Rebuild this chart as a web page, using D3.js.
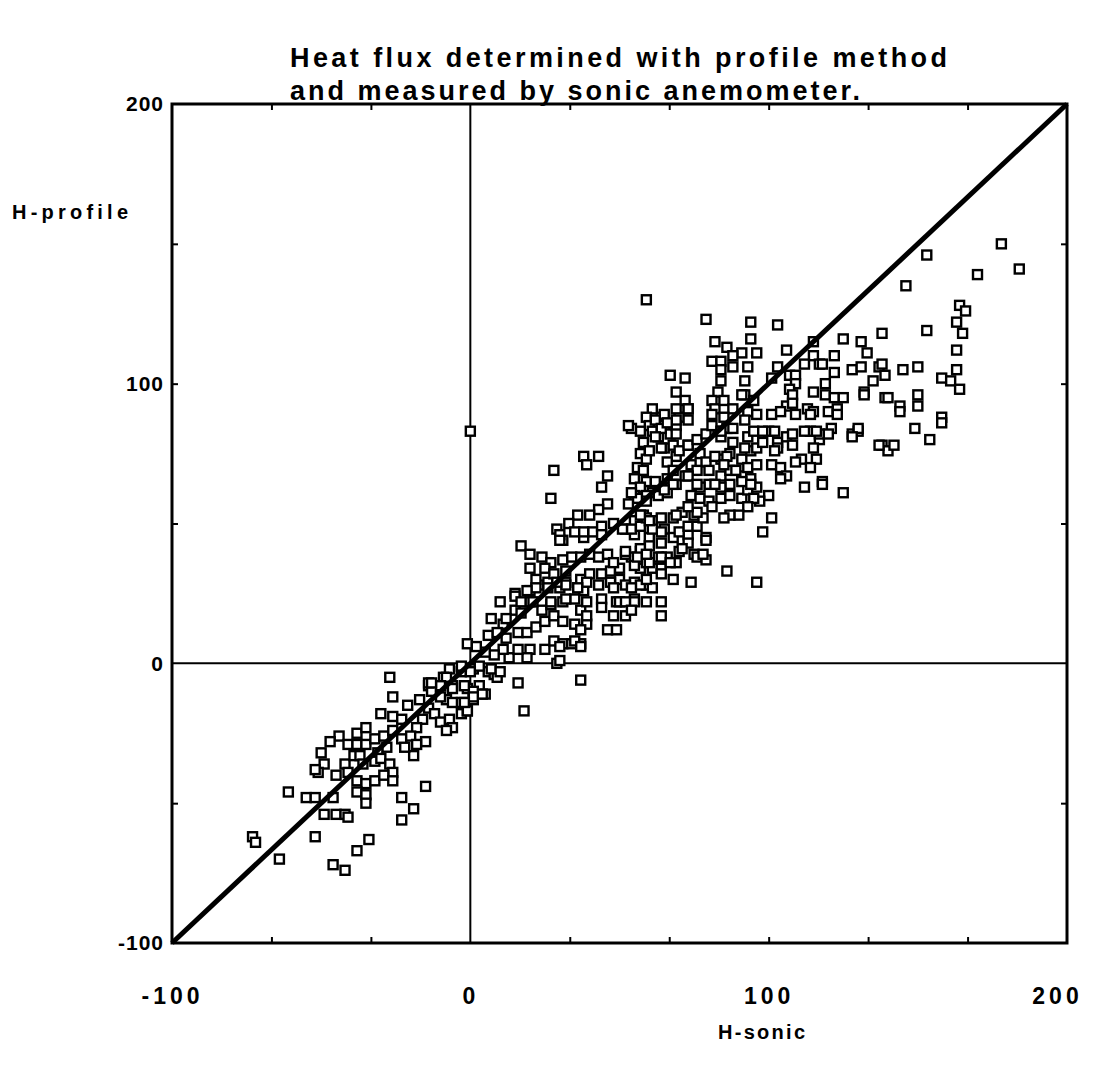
<!DOCTYPE html>
<html>
<head>
<meta charset="utf-8">
<script src="https://cdn.jsdelivr.net/npm/d3@7"></script>
<style>
  body { margin: 0; background: #fff; }
  text { font-family: "Liberation Sans", Arial, sans-serif; font-weight: bold; fill: #000; }
</style>
</head>
<body>
<svg width="1099" height="1070"></svg>
<script>
// points are [H-sonic, H-profile]
var negativeFlux = [
  [-27,-5],[-26,-12],[-14,-8],[-30,-18],[-26,-19],[-21,-15],[-23,-20],[-17,-13],[-14,-16],[-16,-20],
  [-18,-23],[-12,-18],[-10,-21],[-7,-20],[-3,-18],[-1,-17],[-6,-23],[-8,-24],[-44,-26],[-47,-28],
  [-38,-25],[-35,-23],[-41,-29],[-38,-29],[-35,-29],[-32,-27],[-29,-26],[-26,-24],[-23,-27],[-28,-30],
  [-31,-32],[-20,-26],[-15,-28],[-18,-29],[-19,-33],[-22,-30],[-50,-32],[-49,-36],[-51,-39],[-52,-38],
  [-45,-40],[-42,-36],[-39,-33],[-37,-33],[-41,-39],[-36,-36],[-32,-35],[-30,-34],[-27,-36],[-26,-39],
  [-38,-42],[-35,-43],[-32,-42],[-29,-40],[-26,-42],[-38,-46],[-35,-47],[-35,-50],[-61,-46],[-55,-48],
  [-52,-48],[-46,-48],[-49,-54],[-45,-54],[-42,-54],[-41,-55],[-23,-48],[-19,-52],[-23,-56],[-15,-44],
  [-73,-62],[-72,-64],[-52,-62],[-64,-70],[-34,-63],[-38,-67],[-46,-72],[-42,-74]
];

var nearOrigin = [
  [-7,-2],[-3,-3],[1,-2],[6,-3],[8,-4],[3,-8],[-1,-9],[-6,-8],[-9,-5],[-11,-9],[-13,-10],[-8,-13],
  [-3,-14],[1,-13],[5,-11],[-1,-17],[-14,-7],[-1,7],[10,22],[15,25],[20,26],[23,28],[26,29],[30,27],
  [32,29],[36,27],[38,26],[7,16],[11,14],[15,19],[20,22],[24,19],[27,21],[31,22],[35,23],[37,19],
  [39,22],[6,10],[9,11],[12,9],[16,11],[19,11],[22,13],[25,15],[28,17],[31,15],[35,14],[39,14],
  [20,5],[25,5],[31,7],[34,7],[37,7],[28,8],[29,0],[37,-6],[13,2],[19,2],[16,5],[11,5],[8,3],[5,4],
  [2,6],[16,-7],[9,-5],[4,-11],[1,-10],[-2,-8],[-6,-9],[-8,-5],[-10,-8],[-13,-7],[7,-2],[10,-3],
  [3,-1],[0,-3],[-3,-1],[1,-12],[-6,-14],[-10,-12],[-2,-14],[18,-17],[12,16],[17,18],[30,1]
];

var midFlux = [
  [46,67],[44,63],[27,59],[46,57],[43,55],[40,53],[36,53],[33,50],[29,48],[31,44],[35,47],[38,45],
  [41,47],[44,49],[48,50],[17,42],[20,39],[24,38],[27,36],[31,37],[34,38],[37,38],[40,39],[43,38],
  [46,39],[20,34],[25,34],[22,30],[28,32],[32,33],[37,30],[40,32],[44,32],[47,33],[50,34],[54,38],
  [57,34],[59,36],[63,38],[61,34],[59,28],[55,29],[50,30],[47,29],[43,28],[39,29],[36,27],[32,28],
  [29,29],[26,27],[22,27],[19,26],[15,24],[17,22],[21,22],[27,22],[32,23],[44,23],[49,22],[55,23],
  [59,22],[48,36],[52,39],[55,35],[57,40],[60,36],[64,34],[66,38],[69,36],[68,30],[74,29],[48,27],
  [52,28],[57,28],[61,27],[55,22],[50,22],[48,17],[52,17],[46,12],[49,12],[44,20],[39,17],[37,12],
  [35,8],[30,6],[37,6],[55,51],[58,53],[61,51],[65,48],[68,52],[71,54],[75,53],[68,45],[64,47],
  [60,45],[55,46],[52,48],[70,40],[75,39],[73,46],[64,22],[64,17],[54,48],[57,49],[59,52],[61,48],
  [70,47],[73,49],[76,49],[78,52],[79,45],[73,43],[64,43],[60,42],[57,41],[52,40],[56,38],[59,39],
  [64,38],[67,36],[71,41],[76,38],[79,37],[64,32],[59,30],[54,27],[52,22],[54,19],[86,33],[96,29],
  [38,74],[43,74],[39,71],[28,69]
];

var upperFlux = [
  [69,97],[72,94],[73,91],[70,88],[68,84],[64,88],[61,91],[59,88],[60,85],[63,81],[57,83],[54,84],
  [53,85],[58,79],[65,77],[68,78],[73,78],[69,74],[66,72],[57,75],[59,73],[56,70],[58,69],[55,66],
  [59,65],[57,63],[55,60],[61,61],[59,60],[64,63],[66,66],[68,69],[69,64],[66,61],
  [61,83],[65,85],[67,82],[69,85],[64,77],[60,76],[70,76],[73,78],[76,80],[79,82],[83,83],[86,84],
  [77,75],[74,71],[72,67],[68,64],[63,60],[59,58],[56,59],[54,61],[53,57],[79,72],[76,69],[80,69],
  [84,73],[87,75],[91,73],[94,76],[96,77],[93,81],[95,83],[100,83],[103,79],[106,81],[108,78],
  [84,81],[88,79],[92,77],[84,67],[87,69],[91,67],[94,66],[87,64],[84,63],[80,64],[77,63],[74,60],
  [77,59],[80,58],[84,59],[87,60],[91,59],[93,62],[96,63],[100,60],[97,58],[95,59],[93,56],[90,53],
  [87,53],[85,52],[79,44],[78,39],[101,52],[98,47],[111,73],[116,73],[109,72],[114,70],[112,63],
  [118,65],[125,61],[121,84],[117,80],[117,82],[114,83]
];

var highFlux = [
  [59,130],[79,123],[94,122],[103,121],[138,118],[82,115],[94,116],[115,115],[125,116],[131,115],
  [86,113],[91,111],[96,111],[88,110],[106,112],[122,110],[133,111],[81,108],[84,108],[115,110],
  [117,107],[88,106],[93,106],[103,106],[112,107],[118,107],[128,105],[131,106],[137,106],[67,103],
  [72,102],[84,105],[101,102],[107,103],[109,103],[122,104],[135,101],[139,103],[84,101],[92,101],
  [109,100],[83,97],[81,94],[92,96],[95,94],[107,98],[108,96],[115,97],[119,100],[119,96],[122,95],
  [125,95],[132,97],[139,95],[65,89],[69,91],[73,91],[82,91],[85,94],[88,91],[91,96],[73,87],
  [69,87],[81,89],[85,88],[93,90],[96,89],[101,89],[106,92],[108,93],[104,90],[109,89],[113,91],
  [115,90],[114,89],[120,90],[123,91],[123,89],[62,87],[64,84],[66,86],[69,82],[62,81],[81,85],
  [84,83],[88,84],[92,87],[98,83],[102,83],[108,82],[112,83],[116,83],[120,82],[128,82],[130,83],
  [138,78],[140,76],[98,79],[103,77],[102,76],[115,77],[82,74],[86,74],[85,71],[89,69],[93,70],
  [96,71],[101,71],[104,70],[106,67],[104,66],[118,64],[62,65],[65,62],[73,67],[76,64],[82,64],
  [91,65],[94,64],[81,56],[76,54],[73,56],[69,53],[64,52],[60,51],[57,53],[51,48],[44,46],[38,47],
  [30,46],[30,44],[0,83]
];

var farRight = [
  [178,150],[184,141],[170,139],[153,146],[146,135],[164,128],[166,126],[163,122],[165,118],[153,119],
  [163,112],[138,107],[145,105],[150,106],[163,105],[158,102],[161,101],[164,98],[132,96],[140,95],
  [144,92],[144,90],[150,96],[150,92],[158,88],[158,86],[130,84],[128,81],[149,84],[154,80],[137,78],
  [142,78]
];

var majorTicks = [-100, 0, 100, 200];
var xMinorTicks = [-66.67, -33.33, 33.33, 66.67, 100, 133.33, 166.67];
var yMinorTicks = [-50, 50, 100, 150];

var titleLines = ["Heat flux determined with profile method", "and measured by sonic anemometer."];

var svg = d3.select("svg");
var x = d3.scaleLinear().domain([-100, 200]).range([172, 1067]);
var y = d3.scaleLinear().domain([-100, 200]).range([943, 104]);

// title
svg.append("text").attr("x", 290).attr("y", 67).attr("font-size", 27)
  .attr("textLength", 657).attr("lengthAdjust", "spacing").text(titleLines[0]);
svg.append("text").attr("x", 290).attr("y", 100).attr("font-size", 27)
  .attr("textLength", 570).attr("lengthAdjust", "spacing").text(titleLines[1]);

// inward ticks on all four sides
function tickAxis(axis, transform) {
  var g = svg.append("g").attr("transform", transform).call(axis);
  g.select(".domain").remove();
  g.selectAll("line").attr("stroke", "#000").attr("stroke-width", 2);
  return g;
}
tickAxis(d3.axisBottom(x).tickValues(xMinorTicks).tickSize(-6).tickFormat(""), "translate(0,943)");
tickAxis(d3.axisTop(x).tickValues(xMinorTicks).tickSize(-6).tickFormat(""), "translate(0,104)");
tickAxis(d3.axisLeft(y).tickValues(yMinorTicks).tickSize(-6).tickFormat(""), "translate(172,0)");
tickAxis(d3.axisRight(y).tickValues(yMinorTicks).tickSize(-6).tickFormat(""), "translate(1067,0)");

// tick labels (plain hyphen for the minus sign)
var fmt = function(d) { return String(d); };

var xl = svg.append("g").attr("transform", "translate(0,958)")
  .call(d3.axisBottom(x).tickValues(majorTicks).tickFormat(fmt).tickSize(0).tickPadding(30));
xl.select(".domain").remove();
xl.selectAll("text").attr("font-size", 23).attr("letter-spacing", 4)
  .style("font-family", "Liberation Sans, Arial, sans-serif").style("font-weight", "bold")
  .attr("dx", function(d) { return d === 200 ? -10 : 0; });

var yl = svg.append("g").attr("transform", "translate(166,0)")
  .call(d3.axisLeft(y).tickValues(majorTicks).tickFormat(fmt).tickSize(0).tickPadding(2));
yl.select(".domain").remove();
yl.selectAll("text").attr("font-size", 21).attr("letter-spacing", 1)
  .style("font-family", "Liberation Sans, Arial, sans-serif").style("font-weight", "bold");

// axis titles
svg.append("text").attr("x", 12).attr("y", 219).attr("font-size", 20)
  .attr("textLength", 116).attr("lengthAdjust", "spacing").text("H-profile");
svg.append("text").attr("x", 718).attr("y", 1039).attr("font-size", 20)
  .attr("textLength", 87).attr("lengthAdjust", "spacing").text("H-sonic");

// zero lines
svg.append("line").attr("x1", x(0)).attr("x2", x(0)).attr("y1", y(-100)).attr("y2", y(200))
  .attr("stroke", "#000").attr("stroke-width", 2);
svg.append("line").attr("x1", x(-100)).attr("x2", x(200)).attr("y1", y(0)).attr("y2", y(0))
  .attr("stroke", "#000").attr("stroke-width", 2);

// data squares
var points = negativeFlux.concat(nearOrigin, midFlux, upperFlux, highFlux, farRight);
svg.append("g").selectAll("rect")
  .data(points)
  .enter()
  .append("rect")
  .attr("x", function(d) { return x(d[0]) - 4.5; })
  .attr("y", function(d) { return y(d[1]) - 4.5; })
  .attr("width", 9)
  .attr("height", 9)
  .attr("fill", "#fff")
  .attr("stroke", "#000")
  .attr("stroke-width", 2.4);

// 1:1 line
svg.append("line").attr("x1", x(-100)).attr("y1", y(-100)).attr("x2", x(200)).attr("y2", y(200))
  .attr("stroke", "#000").attr("stroke-width", 5);

// frame
svg.append("rect").attr("x", x(-100)).attr("y", y(200))
  .attr("width", x(200) - x(-100)).attr("height", y(-100) - y(200))
  .attr("fill", "none").attr("stroke", "#000").attr("stroke-width", 3);
</script>
</body>
</html>
